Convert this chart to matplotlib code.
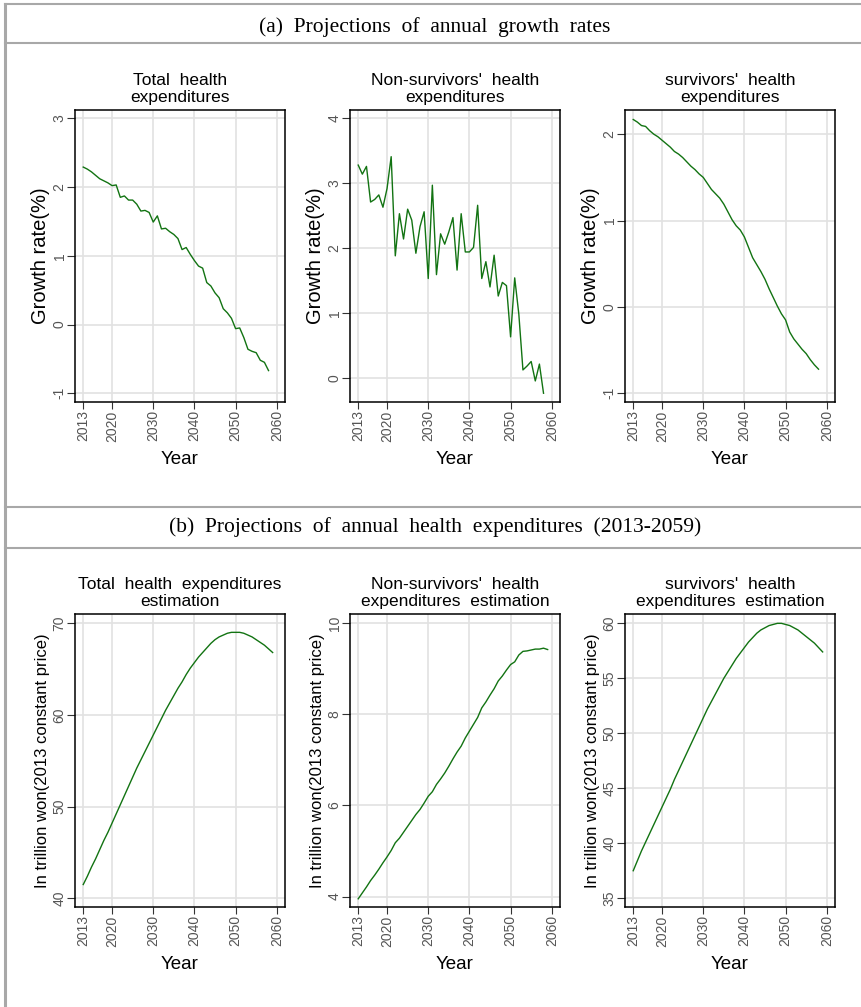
import numpy as np
import matplotlib.pyplot as plt
from matplotlib.lines import Line2D

plt.rcParams['font.family'] = ['Liberation Sans', 'DejaVu Sans']

# years
years_rate = list(range(2013, 2059))
years_exp = list(range(2013, 2060))

# (a) annual growth rates (%)
total_rate = [2.29, 2.26, 2.22, 2.17, 2.12, 2.09, 2.06, 2.02, 2.03, 1.85,
              1.87, 1.81, 1.81, 1.75, 1.65, 1.66, 1.63, 1.49, 1.58, 1.39,
              1.40, 1.35, 1.31, 1.25, 1.09, 1.12, 1.02, 0.93, 0.85, 0.82,
              0.61, 0.56, 0.46, 0.39, 0.23, 0.17, 0.09, -0.06, -0.05, -0.19,
              -0.36, -0.39, -0.41, -0.52, -0.55, -0.67]
nonsurv_rate = [3.28, 3.14, 3.26, 2.71, 2.75, 2.82, 2.63, 2.92, 3.41, 1.88,
                2.53, 2.14, 2.60, 2.43, 1.92, 2.33, 2.56, 1.53, 2.97, 1.59,
                2.22, 2.06, 2.25, 2.47, 1.66, 2.53, 1.94, 1.94, 2.01, 2.66,
                1.53, 1.79, 1.40, 1.89, 1.26, 1.47, 1.42, 0.63, 1.54, 0.98,
                0.12, 0.18, 0.25, -0.05, 0.21, -0.24]
surv_rate = [2.17, 2.14, 2.10, 2.09, 2.04, 2.00, 1.97, 1.93, 1.89, 1.85,
             1.80, 1.77, 1.73, 1.68, 1.63, 1.59, 1.54, 1.50, 1.43, 1.36,
             1.31, 1.26, 1.19, 1.10, 1.01, 0.94, 0.89, 0.81, 0.69, 0.57,
             0.49, 0.41, 0.32, 0.21, 0.11, 0.01, -0.08, -0.15, -0.29, -0.37,
             -0.43, -0.49, -0.54, -0.61, -0.67, -0.72]

# (b) annual health expenditures (trillion won, 2013 constant price)
total_exp = [41.5, 42.4, 43.4, 44.3, 45.3, 46.3, 47.2, 48.2, 49.2, 50.2,
             51.2, 52.2, 53.2, 54.2, 55.1, 56.0, 56.9, 57.8, 58.7, 59.6,
             60.5, 61.3, 62.1, 62.9, 63.6, 64.4, 65.1, 65.7, 66.3, 66.8,
             67.3, 67.8, 68.2, 68.5, 68.7, 68.9, 69.0, 69.0, 69.0, 68.9,
             68.7, 68.5, 68.2, 67.9, 67.6, 67.2, 66.8]
nonsurv_exp = [3.95, 4.08, 4.21, 4.35, 4.47, 4.60, 4.74, 4.87, 5.01, 5.18,
               5.28, 5.41, 5.54, 5.67, 5.80, 5.91, 6.05, 6.20, 6.30, 6.46,
               6.58, 6.71, 6.86, 7.02, 7.17, 7.30, 7.48, 7.63, 7.78, 7.93,
               8.14, 8.27, 8.42, 8.56, 8.73, 8.84, 8.97, 9.09, 9.15, 9.30,
               9.38, 9.39, 9.41, 9.43, 9.43, 9.45, 9.42]
surv_exp = [37.5, 38.4, 39.3, 40.1, 40.9, 41.7, 42.5, 43.3, 44.1, 44.9,
            45.8, 46.6, 47.4, 48.2, 49.0, 49.8, 50.6, 51.4, 52.2, 52.9,
            53.6, 54.3, 55.0, 55.6, 56.2, 56.8, 57.3, 57.8, 58.3, 58.7,
            59.1, 59.4, 59.6, 59.8, 59.9, 60.0, 60.0, 59.9, 59.8, 59.6,
            59.4, 59.1, 58.8, 58.5, 58.2, 57.8, 57.4]

xticks = [2013, 2020, 2030, 2040, 2050, 2060]

W, H = 861, 1007
fig = plt.figure(figsize=(W / 100, H / 100), dpi=100)

line_col = '#127312'
grid_col = '#e2e2e2'
tick_col = '#555555'
frame_col = '#a8a8a8'


def add_panel(box, x, y, title, ylabel, ylim, yticks, ylab_size):
    x0, y0, x1, y1 = box  # pixel box, top-left origin
    ax = fig.add_axes([x0 / W, 1 - y1 / H, (x1 - x0) / W, (y1 - y0) / H])
    ax.plot(x, y, color=line_col, lw=1.0)
    ax.set_xlim(2011, 2062)
    ax.set_ylim(*ylim)
    ax.set_xticks(xticks)
    ax.set_yticks(yticks)
    ax.set_xticklabels([str(t) for t in xticks], rotation=90, color=tick_col, fontsize=10)
    ax.set_yticklabels([str(t) for t in yticks], rotation=90, va='center', color=tick_col, fontsize=10)
    ax.tick_params(axis='x', length=5, width=0.8, color='#333333', pad=1)
    ax.tick_params(axis='y', length=6, width=0.8, color='#333333', pad=0)
    ax.grid(True, color=grid_col, lw=1.2)
    ax.set_axisbelow(True)
    for s in ax.spines.values():
        s.set_color('black')
        s.set_linewidth(1.1)
    ax.set_title(title, fontsize=12.5, linespacing=1.1, pad=6)
    ax.set_xlabel('Year', fontsize=13.5, labelpad=7)
    ax.set_ylabel(ylabel, fontsize=ylab_size, labelpad=2)
    return ax


add_panel((75, 110, 285, 402), years_rate, total_rate,
          'Total  health\nexpenditures', 'Growth rate(%)', (-1.127, 3.12), [-1, 0, 1, 2, 3], 14.5)
add_panel((350, 110, 560, 402), years_rate, nonsurv_rate,
          "Non-survivors'  health\nexpenditures", 'Growth rate(%)', (-0.375, 4.13), [0, 1, 2, 3, 4], 14.5)
add_panel((625, 110, 835, 402), years_rate, surv_rate,
          "survivors'  health\nexpenditures", 'Growth rate(%)', (-1.1, 2.28), [-1, 0, 1, 2], 14.5)

ylab_b = 'In trillion won(2013 constant price)'
add_panel((75, 614, 285, 907), years_exp, total_exp,
          'Total  health  expenditures\nestimation', ylab_b, (39.05, 71.0), [40, 50, 60, 70], 12)
add_panel((350, 614, 560, 907), years_exp, nonsurv_exp,
          "Non-survivors'  health\nexpenditures  estimation", ylab_b, (3.77, 10.2), [4, 6, 8, 10], 12)
add_panel((625, 614, 835, 907), years_exp, surv_exp,
          "survivors'  health\nexpenditures  estimation", ylab_b, (34.2, 60.85), [35, 40, 45, 50, 55, 60], 12)

# table-like frame with section headers
def hline(ypix, x0=5):
    fig.add_artist(Line2D([x0 / W, 1], [1 - ypix / H] * 2, color=frame_col, lw=1.5))

fig.add_artist(Line2D([5 / W, 5 / W], [0, 1 - 4 / H], color=frame_col, lw=2.2))
hline(4)
hline(43)
hline(507)
hline(548)

fig.text(435 / W, 1 - 27 / H, '(a)  Projections  of  annual  growth  rates',
         ha='center', va='center', fontsize=15.5, family='Liberation Serif')
fig.text(435 / W, 1 - 527 / H, '(b)  Projections  of  annual  health  expenditures  (2013-2059)',
         ha='center', va='center', fontsize=15.5, family='Liberation Serif')

fig.savefig('out.png', dpi=100)
